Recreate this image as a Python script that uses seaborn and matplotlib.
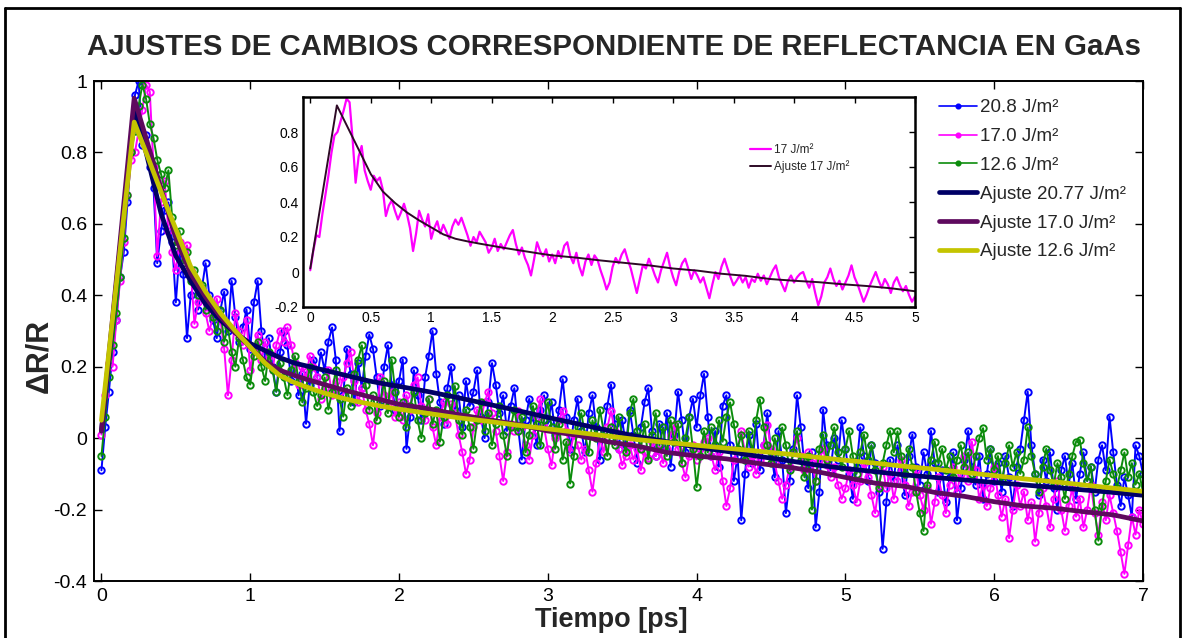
import numpy as np
import matplotlib
matplotlib.use("Agg")
import matplotlib.pyplot as plt
import seaborn as sns
from matplotlib.ticker import FuncFormatter, FixedLocator
from matplotlib.lines import Line2D
from matplotlib import font_manager

# ---------------------------------------------------------------- data
PASO = 0.025  # ps between samples

# Delta R / R, 20.8 J/m^2
r_208 = [
    -0.09, 0.03, 0.13, 0.24, 0.33, 0.45, 0.52, 0.66, 0.80, 0.96,
    1.00, 0.82, 0.85, 0.76, 0.70, 0.49, 0.58, 0.64, 0.66, 0.55,
    0.38, 0.52, 0.46, 0.28, 0.40, 0.44, 0.36, 0.42, 0.49, 0.40,
    0.33, 0.28, 0.36, 0.41, 0.30, 0.44, 0.34, 0.27, 0.31, 0.36,
    0.25, 0.38, 0.44, 0.30, 0.22, 0.28, 0.20, 0.13, 0.24, 0.30,
    0.26, 0.16, 0.21, 0.12, 0.18, 0.04, 0.15, 0.22, 0.17, 0.24,
    0.19, 0.27, 0.31, 0.22, 0.02, 0.12, 0.25, 0.18, 0.10, 0.21,
    0.14, 0.23, 0.29, 0.25, 0.17, 0.09, 0.20, 0.26, 0.15, 0.08,
    0.16, 0.22, -0.03, 0.06, 0.19, 0.12, 0.05, 0.17, 0.23, 0.30,
    0.18, 0.10, 0.04, 0.14, 0.20, 0.08, 0.12, 0.03, 0.16, 0.09,
    0.13, 0.19, 0.06, 0.00, 0.10, 0.21, 0.15, 0.07, 0.12, 0.02,
    0.09, 0.14, 0.03, -0.06, 0.05, 0.11, 0.06, -0.02, 0.08, 0.12,
    0.04, 0.10, 0.01, 0.08, 0.165, 0.06, -0.03, 0.05, 0.11, 0.02,
    -0.04, 0.07, 0.12, 0.03, -0.06, 0.02, 0.09, 0.15, 0.04, -0.03,
    0.05, -0.02, 0.08, 0.01, -0.07, 0.03, 0.10, 0.14, 0.02, -0.05,
    0.04, -0.03, 0.07, -0.08, 0.01, 0.13, 0.05, -0.04, 0.06, 0.11,
    0.03, 0.12, 0.18, 0.06, -0.05, 0.02, -0.08, 0.09, 0.12, -0.02,
    -0.12, -0.05, -0.23, -0.10, 0.01, -0.07, 0.04, -0.09, -0.02, 0.07,
    -0.04, -0.11, 0.02, -0.06, -0.21, -0.12, -0.03, 0.12, 0.03, -0.08,
    -0.14, -0.04, -0.25, -0.15, 0.08, -0.02, -0.09, 0.00, -0.06, 0.05,
    -0.03, -0.10, -0.17, -0.08, 0.03, -0.05, -0.12, -0.02, -0.07, -0.15,
    -0.31, -0.18, -0.06, -0.12, -0.02, -0.09, -0.16, -0.05, 0.01, -0.08,
    -0.13, -0.04, -0.10, 0.02, -0.07, -0.15, -0.09, -0.18, -0.11, -0.04,
    -0.23, -0.14, -0.06, 0.02, -0.08, -0.13, -0.05, -0.17, -0.10, -0.03,
    -0.12, -0.07, -0.15, -0.05, -0.11, -0.19, -0.08, -0.03, 0.05, 0.13,
    -0.02, -0.10, -0.16, -0.06, -0.12, -0.04, -0.14, -0.20, -0.09, -0.05,
    -0.13, -0.07, -0.17, -0.10, -0.04, -0.12, -0.08, -0.15, -0.06, -0.02,
    -0.09, 0.06, -0.04, -0.13, -0.19, -0.11, -0.16, -0.22, -0.02, -0.05,
    -0.10,
]

# Delta R / R, 17.0 J/m^2
r_170 = [
    0.01, 0.12, 0.21, 0.20, 0.33, 0.44, 0.55, 0.68, 0.78, 0.80,
    0.86, 0.92, 0.99, 0.97, 0.76, 0.51, 0.66, 0.72, 0.58, 0.52,
    0.47, 0.55, 0.52, 0.54, 0.47, 0.32, 0.38, 0.41, 0.35, 0.30,
    0.34, 0.39, 0.33, 0.25, 0.12, 0.22, 0.35, 0.30, 0.26, 0.33,
    0.19, 0.25, 0.29, 0.22, 0.27, 0.23, 0.19, 0.26, 0.30, 0.27,
    0.31, 0.26, 0.21, 0.15, 0.20, 0.17, 0.23, 0.20, 0.17, 0.11,
    0.14, 0.19, 0.12, 0.16, 0.13, 0.17, 0.21, 0.24, 0.16, 0.10,
    0.14, 0.08, 0.04, -0.02, 0.07, 0.17, 0.12, 0.09, 0.13, 0.06,
    0.10, 0.05, 0.12, 0.08, 0.15, 0.17, 0.09, 0.05, 0.11, 0.03,
    -0.02, 0.06, 0.10, 0.04, 0.095, 0.07, 0.01, -0.04, -0.10, -0.06,
    0.03, 0.08, 0.05, 0.10, 0.13, 0.07, 0.02, -0.05, -0.12, -0.04,
    0.04, 0.02, 0.076, 0.03, -0.02, -0.06, 0.01, 0.06, 0.11, 0.03,
    -0.03, -0.076, 0.00, 0.05, 0.076, 0.02, -0.04, 0.01, -0.02, -0.06,
    -0.03, -0.09, -0.15, -0.07, 0.00, -0.04, 0.03, 0.076, 0.02, -0.03,
    -0.076, -0.05, -0.02, -0.06, -0.03, -0.09, -0.04, -0.057, -0.01, -0.05,
    -0.02, -0.07, -0.03, 0.01, 0.038, -0.03, -0.07, -0.11, -0.05, -0.02,
    -0.06, -0.03, -0.01, 0.00, -0.05, -0.09, -0.04, -0.12, -0.19, -0.14,
    -0.06, -0.03, 0.02, -0.04, -0.08, -0.05, -0.10, -0.06, -0.02, 0.038,
    -0.03, -0.07, -0.12, -0.17, -0.13, -0.08, -0.04, 0.00, -0.05, -0.09,
    -0.04, -0.07, -0.12, -0.06, -0.03, -0.076, -0.11, -0.08, -0.13, -0.17,
    -0.14, -0.09, -0.13, -0.18, -0.12, -0.07, -0.11, -0.16, -0.21, -0.13,
    -0.08, -0.14, -0.10, -0.17, -0.12, -0.06, -0.13, -0.19, -0.15, -0.09,
    -0.16, -0.20, -0.14, -0.24, -0.18, -0.11, -0.16, -0.21, -0.13, -0.08,
    -0.15, -0.10, -0.05, -0.12, -0.01, -0.09, -0.17, -0.13, -0.19, -0.14,
    -0.08, -0.16, -0.22, -0.17, -0.28, -0.20, -0.13, -0.19, -0.15, -0.23,
    -0.18, -0.29, -0.21, -0.14, -0.19, -0.25, -0.17, -0.12, -0.20, -0.26,
    -0.19, -0.14, -0.22, -0.17, -0.25, -0.20, -0.13, -0.21, -0.27, -0.18,
    -0.23, -0.16, -0.21, -0.26, -0.32, -0.38, -0.30, -0.22, -0.27, -0.20,
    -0.24,
]

# Delta R / R, 12.6 J/m^2
r_126 = [
    -0.05, 0.06, 0.17, 0.26, 0.35, 0.45, 0.56, 0.68, 0.80, 0.86,
    0.93, 0.99, 0.95, 0.88, 0.84, 0.78, 0.74, 0.70, 0.75, 0.62,
    0.54, 0.58, 0.49, 0.52, 0.44, 0.47, 0.40, 0.43, 0.36, 0.38,
    0.34, 0.30, 0.36, 0.27, 0.31, 0.24, 0.20, 0.28, 0.22, 0.17,
    0.15, 0.23, 0.27, 0.20, 0.16, 0.24, 0.19, 0.13, 0.21, 0.17,
    0.12, 0.19, 0.23, 0.16, 0.10, 0.14, 0.20, 0.13, 0.09, 0.12,
    0.17, 0.08, 0.13, 0.19, 0.11, 0.06, 0.14, 0.09, 0.18, 0.22,
    0.26, 0.15, 0.08, 0.12, 0.05, 0.10, 0.16, 0.07, 0.22, 0.13,
    0.06, 0.10, 0.03, 0.09, 0.13, 0.05, 0.00, 0.07, 0.11, 0.04,
    0.08, -0.01, 0.06, 0.12, 0.07, 0.146, 0.05, 0.01, 0.08, 0.03,
    -0.03, 0.05, 0.10, 0.02, 0.07, -0.02, 0.04, 0.09, 0.01, -0.05,
    0.03, 0.08, 0.02, 0.06, -0.04, 0.01, 0.09, 0.04, -0.02, 0.05,
    0.10, 0.03, -0.03, 0.04, -0.06, -0.01, -0.127, -0.05, 0.03, 0.07,
    0.01, -0.04, 0.05, 0.00, 0.08, 0.02, -0.05, 0.03, -0.02, 0.06,
    0.01, -0.04, 0.07, 0.11, 0.02, -0.03, 0.04, -0.06, 0.01, 0.07,
    -0.02, 0.03, -0.05, 0.05, -0.01, 0.04, -0.07, 0.00, 0.06, -0.03,
    -0.137, -0.05, 0.02, -0.04, 0.03, -0.02, 0.05, -0.01, 0.06, 0.10,
    0.04, -0.03, 0.01, -0.06, 0.02, -0.04, 0.05, 0.108, 0.03, -0.02,
    -0.07, 0.00, -0.05, 0.03, -0.02, -0.09, -0.04, 0.02, -0.06, -0.11,
    -0.05, -0.20, -0.12, -0.03, 0.01, -0.06, -0.02, 0.03, -0.04, -0.08,
    -0.03, 0.02, -0.05, -0.10, -0.04, 0.01, -0.06, -0.02, -0.09, -0.14,
    -0.07, -0.02, 0.02, -0.04, 0.019, -0.05, -0.10, -0.03, -0.08, -0.15,
    -0.21, -0.26, -0.13, -0.06, -0.01, -0.07, -0.03, -0.09, -0.05, -0.11,
    -0.06, -0.02, -0.08, -0.04, -0.10, -0.05, 0.00, 0.028, -0.06, -0.03,
    -0.09, -0.05, -0.12, -0.07, -0.02, -0.08, -0.04, -0.10, -0.06, 0.03,
    -0.05, -0.10, -0.15, -0.08, -0.03, -0.09, -0.13, -0.07, -0.11, -0.17,
    -0.10, -0.05, -0.01, -0.005, -0.07, -0.12, -0.08, -0.20, -0.287, -0.19,
    -0.12, -0.06, -0.10, -0.14, -0.09, -0.04, -0.11, -0.07, -0.13, -0.10,
    -0.15,
]

# fitted curves
t_ajuste = [0.0, 0.22, 0.3, 0.4, 0.5, 0.6, 0.7, 0.8, 0.9, 1.0, 1.1, 1.2, 1.3,
            1.4, 1.5, 1.6, 1.7, 1.8, 1.9, 2.0, 2.2, 2.4, 2.6, 2.8, 3.0, 3.2,
            3.4, 3.6, 3.8, 4.0, 4.2, 4.4, 4.6, 4.8, 5.0, 5.2, 5.4, 5.6, 5.8,
            6.0, 6.2, 6.4, 6.6, 6.8, 7.0]
ajuste_2077 = [0.02, 0.92, 0.80, 0.63, 0.51, 0.44, 0.375, 0.33, 0.295, 0.265,
               0.245, 0.225, 0.21, 0.20, 0.19, 0.18, 0.17, 0.16, 0.152, 0.145,
               0.13, 0.113, 0.095, 0.077, 0.058, 0.04, 0.022, 0.005, -0.01,
               -0.025, -0.037, -0.05, -0.062, -0.075, -0.085, -0.094, -0.103,
               -0.11, -0.117, -0.124, -0.131, -0.138, -0.145, -0.152, -0.16]
ajuste_170 = [0.02, 0.952, 0.84, 0.70, 0.56, 0.46, 0.395, 0.34, 0.295, 0.255,
              0.215, 0.19, 0.175, 0.162, 0.15, 0.138, 0.127, 0.116, 0.105,
              0.095, 0.082, 0.066, 0.052, 0.038, 0.02, 0.008, -0.01, -0.022,
              -0.04, -0.05, -0.058, -0.07, -0.08, -0.093, -0.11, -0.126,
              -0.135, -0.152, -0.163, -0.178, -0.19, -0.196, -0.206, -0.215,
              -0.232]
ajuste_126 = [0.05, 0.885, 0.80, 0.69, 0.585, 0.48, 0.41, 0.35, 0.30, 0.255,
              0.21, 0.175, 0.155, 0.14, 0.126, 0.114, 0.104, 0.096, 0.088,
              0.081, 0.069, 0.057, 0.047, 0.036, 0.026, 0.016, 0.006, -0.004,
              -0.012, -0.02, -0.028, -0.036, -0.044, -0.053, -0.062, -0.07,
              -0.079, -0.087, -0.096, -0.105, -0.114, -0.122, -0.131, -0.14,
              -0.149]

etiquetas_datos = ["20.8 J/m\u00b2", "17.0 J/m\u00b2", "12.6 J/m\u00b2"]
etiquetas_ajuste = ["Ajuste 20.77 J/m\u00b2", "Ajuste 17.0 J/m\u00b2",
                    "Ajuste 12.6 J/m\u00b2"]
x_ticks = [0, 1, 2, 3, 4, 5, 6, 7]
y_ticks = [-0.4, -0.2, 0, 0.2, 0.4, 0.6, 0.8, 1.0]
x_ticks_ins = [0, 0.5, 1, 1.5, 2, 2.5, 3, 3.5, 4, 4.5, 5]
y_ticks_ins = [-0.2, 0, 0.2, 0.4, 0.6, 0.8]
T_INSERTO = 5.0

tiempo = np.round(np.arange(len(r_208)) * PASO, 3)

# ---------------------------------------------------------------- style
sns.set_theme(style="white")
plt.rcParams['font.family'] = ['Liberation Sans', 'DejaVu Sans']
plt.rcParams['axes.unicode_minus'] = False

W, H = 1187, 638
fig = plt.figure(figsize=(W / 100, H / 100), dpi=100)
fig.patch.set_facecolor("white")


def fx(px):
    return px / W


def fy(py):
    return 1 - py / H


ax = fig.add_axes([fx(94), fy(581), fx(1143) - fx(94), fy(81) - fy(581)])

col_datos = ["#0000ff", "#ff00ff", "#0c8c0c"]
col_ajuste = ["#000066", "#5e0a5e", "#c4c400"]

for serie, color, etq in zip([r_208, r_170, r_126], col_datos, etiquetas_datos):
    sns.lineplot(x=tiempo, y=serie, ax=ax, color=color, label=etq,
                 estimator=None, sort=False, linewidth=1.4,
                 marker="o", markersize=4.6, markerfacecolor="none",
                 markeredgecolor=color, markeredgewidth=1.4)

for serie, color, etq in zip([ajuste_2077, ajuste_170, ajuste_126],
                             col_ajuste, etiquetas_ajuste):
    sns.lineplot(x=t_ajuste, y=serie, ax=ax, color=color, label=etq,
                 estimator=None, sort=False, linewidth=3.4)

fmt = FuncFormatter(lambda v, p: f"{v:g}")
ax.set_xlim(-0.05, 7.0)
ax.set_ylim(-0.4, 1.0)
ax.xaxis.set_major_locator(FixedLocator(x_ticks))
ax.yaxis.set_major_locator(FixedLocator(y_ticks))
ax.xaxis.set_major_formatter(fmt)
ax.yaxis.set_major_formatter(fmt)
ax.tick_params(direction="in", length=6, width=1.0, labelsize=14,
               top=True, right=True, bottom=True, left=True, colors="black",
               pad=5)
for s in ax.spines.values():
    s.set_color("black")
    s.set_linewidth(1.4)
ax.set_xlabel("")
ax.set_ylabel("")

# legend of the main axes
h, l = ax.get_legend_handles_labels()
leg = ax.legend(h, l, loc="upper left", bbox_to_anchor=(fx(930), fy(90)),
                bbox_transform=fig.transFigure, frameon=False, fontsize=13.5,
                handlelength=2.0, handletextpad=0.15, labelspacing=0.62,
                borderpad=0.0)
for lh in leg.get_lines()[:3]:
    lh.set_linewidth(1.2)
    lh.set_markersize(3.0)
    lh.set_markerfacecolor(lh.get_color())

# inset with the 17 J/m^2 trace up to 5 ps
n_ins = int(round(T_INSERTO / PASO)) + 1
axi = fig.add_axes([fx(303), fy(307), fx(915) - fx(303), fy(97) - fy(307)])
axi.set_zorder(5)
axi.set_facecolor("white")
sns.lineplot(x=tiempo[:n_ins], y=r_170[:n_ins], ax=axi, color="#ff00ff",
             linewidth=1.6, estimator=None, sort=False, label="17 J/m\u00b2")
sns.lineplot(x=t_ajuste[:35], y=ajuste_170[:35], ax=axi, color="#2e0a26",
             linewidth=1.4, estimator=None, sort=False,
             label="Ajuste 17 J/m\u00b2")
axi.set_xlim(-0.06, 5.0)
axi.set_ylim(-0.2, 1.0)
axi.xaxis.set_major_locator(FixedLocator(x_ticks_ins))
axi.yaxis.set_major_locator(FixedLocator(y_ticks_ins))
axi.xaxis.set_major_formatter(fmt)
axi.yaxis.set_major_formatter(fmt)
axi.tick_params(direction="in", length=4, width=1.0, labelsize=10,
                top=True, right=True, colors="black", pad=3)
for s in axi.spines.values():
    s.set_color("black")
    s.set_linewidth(1.8)
axi.set_xlabel("")
axi.set_ylabel("")
axi.legend(loc="upper left", bbox_to_anchor=(fx(744), fy(138)),
           bbox_transform=fig.transFigure, frameon=False, fontsize=8.5,
           handlelength=1.8, handletextpad=0.2, labelspacing=0.35,
           borderpad=0.0)

# title and axis labels
titulo = "AJUSTES DE CAMBIOS CORRESPONDIENTE DE REFLECTANCIA EN GaAs"
familias = font_manager.fontManager.ttflist
tiene_narrow = any(f.name == "Liberation Sans Narrow" for f in familias)
if tiene_narrow:
    fig.text(fx(614), fy(47), titulo, ha="center", va="center", fontsize=24,
             fontweight="bold",
             family=["Liberation Sans Narrow", "Liberation Sans"])
else:
    fig.text(fx(614), fy(47), titulo, ha="center", va="center", fontsize=21.2,
             fontweight="bold")

fig.text(fx(39), fy(356), "\u0394R/R", rotation=90, ha="center", va="center",
         fontsize=22, fontweight="bold")
fig.text(fx(611), fy(620), "Tiempo [ps]", ha="center", va="center",
         fontsize=19.5, fontweight="bold")

# outer frame
for xs, ys in [([5, 5], [8, 640]), ([5, 1180], [8, 8]), ([1180, 1180], [8, 640])]:
    fig.add_artist(Line2D([fx(x) for x in xs], [fy(y) for y in ys],
                          transform=fig.transFigure, color="black",
                          linewidth=2.0))

fig.savefig("out.png", dpi=100, facecolor="white")
